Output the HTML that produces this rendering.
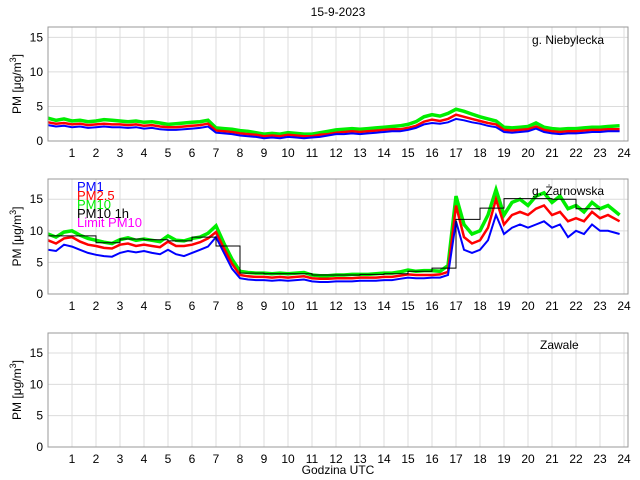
<!DOCTYPE html>
<html><head><meta charset="utf-8"><style>
body{margin:0;background:#fff;}
svg{display:block;font-family:"Liberation Sans",sans-serif;}
</style></head><body>
<svg id="c" width="640" height="480">
<text x="338" y="16" font-size="12" text-anchor="middle">15-9-2023</text>
<text x="338" y="474" font-size="12" text-anchor="middle">Godzina UTC</text>
</svg>
<script>
const hours = Array.from({length:72},(_,i)=>i/3);
const p1_pm10=[3.3,3.0,3.2,2.9,3.0,2.8,2.9,3.1,3.0,2.9,2.8,2.9,2.7,2.8,2.6,2.4,2.5,2.6,2.7,2.8,3.0,1.9,1.8,1.7,1.5,1.4,1.2,1.0,1.1,1.0,1.2,1.1,1.0,1.0,1.2,1.4,1.6,1.7,1.8,1.7,1.8,1.9,2.0,2.1,2.2,2.4,2.8,3.5,3.8,3.6,4.0,4.6,4.3,3.9,3.5,3.2,2.9,2.0,1.9,2.0,2.1,2.6,2.0,1.8,1.7,1.8,1.8,1.9,2.0,2.0,2.1,2.2];
const p1_pm25=[2.7,2.5,2.6,2.4,2.5,2.3,2.4,2.5,2.4,2.4,2.3,2.4,2.2,2.3,2.1,2.0,2.0,2.1,2.2,2.3,2.5,1.5,1.4,1.3,1.1,1.0,0.9,0.7,0.8,0.7,0.9,0.8,0.7,0.7,0.9,1.0,1.2,1.3,1.4,1.3,1.4,1.5,1.6,1.7,1.7,1.9,2.2,2.8,3.1,2.9,3.2,3.8,3.5,3.2,2.9,2.6,2.4,1.6,1.5,1.6,1.7,2.1,1.6,1.4,1.3,1.4,1.4,1.5,1.6,1.6,1.7,1.7];
const p1_pm1=[2.3,2.1,2.2,2.0,2.1,1.9,2.0,2.1,2.0,2.0,1.9,2.0,1.8,1.9,1.7,1.6,1.6,1.7,1.8,1.9,2.1,1.2,1.1,1.0,0.8,0.7,0.6,0.4,0.5,0.4,0.6,0.5,0.4,0.5,0.6,0.8,1.0,1.0,1.1,1.0,1.1,1.2,1.3,1.4,1.4,1.6,1.9,2.4,2.6,2.5,2.7,3.2,3.0,2.7,2.5,2.2,2.0,1.3,1.2,1.3,1.4,1.8,1.3,1.1,1.0,1.1,1.1,1.2,1.3,1.3,1.4,1.4];
const p2_pm10=[9.5,9.0,9.8,10.0,9.3,8.8,8.5,8.2,8.0,8.6,8.9,8.5,8.7,8.5,8.3,9.2,8.5,8.4,8.8,9.0,9.6,10.8,8.0,5.5,3.6,3.4,3.3,3.3,3.2,3.3,3.2,3.3,3.4,3.0,2.9,2.9,3.0,3.0,3.1,3.1,3.1,3.2,3.3,3.3,3.5,3.8,3.6,3.7,3.7,3.6,4.5,15.5,11.0,9.5,10.0,12.5,16.5,12.5,14.5,15.0,14.0,15.5,16.0,14.5,15.5,13.5,14.0,13.0,14.5,13.5,14.0,12.5];
const p2_pm25=[8.5,8.0,8.8,9.0,8.3,7.8,7.6,7.3,7.2,7.8,8.0,7.6,7.8,7.6,7.4,8.3,7.6,7.6,7.8,8.2,8.8,9.8,7.2,4.8,3.0,2.8,2.7,2.7,2.6,2.7,2.6,2.7,2.8,2.5,2.4,2.4,2.5,2.5,2.5,2.6,2.6,2.6,2.7,2.7,2.9,3.1,3.0,3.0,3.0,3.1,3.5,14.0,9.0,8.0,8.5,10.5,15.0,11.0,12.5,13.0,12.5,13.5,14.0,12.5,13.0,11.5,12.0,11.5,13.0,12.0,12.5,11.5];
const p2_pm1=[7.0,6.8,7.8,7.5,7.0,6.5,6.2,6.0,5.9,6.5,6.8,6.6,6.8,6.5,6.3,7.0,6.3,6.0,6.5,7.0,7.5,9.0,6.5,4.0,2.5,2.3,2.2,2.2,2.1,2.2,2.1,2.2,2.3,2.0,1.9,1.9,2.0,2.0,2.0,2.1,2.1,2.1,2.2,2.2,2.4,2.6,2.5,2.5,2.6,2.6,3.0,11.5,7.0,6.5,7.0,8.5,12.5,9.5,10.5,11.0,10.5,11.0,11.5,10.5,11.0,9.0,10.0,9.5,11.0,10.0,10.0,9.5];
const p2_hourly=[9.2,9.2,8.1,8.7,8.6,8.4,9.0,7.6,3.3,3.2,3.2,3.0,3.0,3.1,3.2,3.6,4.1,11.8,13.6,15.1,15.1,15.0,13.5];
const yTicks=[0,5,10,15];
const xTicks=[1,2,3,4,5,6,7,8,9,10,11,12,13,14,15,16,17,18,19,20,21,22,23,24];
const panels=[
 {name:"niebylecka",label:"g. Niebylecka",top:27,bot:141,ymax:16.5,lx:532,ly:44,series:[p1_pm10,p1_pm25,p1_pm1]},
 {name:"zarnowska",label:"g. Żarnowska",top:179,bot:294,ymax:18.2,lx:532,ly:195,series:[p2_pm10,p2_pm25,p2_pm1],hourly:p2_hourly,legend:true},
 {name:"zawale",label:"Zawale",top:333,bot:447,ymax:18.2,lx:540,ly:349,series:[]}
];
const colors=["#00ee00","#ff0000","#0000ff"];
const NS="http://www.w3.org/2000/svg";
const svg=document.getElementById("c");
function mk(t,a){const e=document.createElementNS(NS,t);for(const k in a)e.setAttribute(k,a[k]);return e;}
const X0=48,X1=628;
const sx=h=>X0+24*h;
panels.forEach((p,pi)=>{
  const sy=v=>p.bot-(v/p.ymax)*(p.bot-p.top);
  const g=mk("g",{});
  
  
  svg.appendChild(g);
  xTicks.forEach(t=>{
    const l=mk("line",{x1:sx(t),x2:sx(t),y1:p.top,y2:p.bot,stroke:"#dcdcdc","stroke-width":1});
    
    
    g.appendChild(l);
    const tx=mk("text",{x:sx(t),y:p.bot+16,"font-size":12,"text-anchor":"middle"});
    tx.textContent=t;
    
    
    g.appendChild(tx);
  });
  yTicks.forEach(t=>{
    if(t>0){const l=mk("line",{x1:X0,x2:X1,y1:sy(t),y2:sy(t),stroke:"#dcdcdc","stroke-width":1});
    
    
    g.appendChild(l);}
    const tx=mk("text",{x:X0-5,y:sy(t)+4,"font-size":12,"text-anchor":"end"});
    tx.textContent=t;
    
    
    g.appendChild(tx);
  });
  p.series.forEach((s,si)=>{
    const pts=s.map((v,i)=>sx(hours[i]+(i==71?0.15:0)).toFixed(1)+","+sy(v).toFixed(1)).join(" ");
    const pl=mk("polyline",{points:pts,fill:"none",stroke:colors[si],"stroke-width":[3.5,2.5,2][si]});
    
    
    g.appendChild(pl);
  });
  if(p.hourly){
    let d="";
    p.hourly.forEach((v,i)=>{d+=(i==0?"M":"L")+sx(i)+","+sy(v).toFixed(1)+" L"+sx(i+1)+","+sy(v).toFixed(1)+" ";});
    const ph=mk("path",{d:d,fill:"none",stroke:"#000","stroke-width":1});
    
    
    g.appendChild(ph);
  }
  const box=mk("rect",{x:X0,y:p.top,width:X1-X0,height:p.bot-p.top,fill:"none",stroke:"#999","stroke-width":1});
  
  
  g.appendChild(box);
  const yl=mk("text",{transform:`translate(21,${(p.top+p.bot)/2}) rotate(-90)`,"font-size":12,"text-anchor":"middle"});
  yl.innerHTML='PM [μg/m<tspan dy="-5" font-size="9">3</tspan><tspan dy="5">]</tspan>';
  
  
  g.appendChild(yl);
  const st=mk("text",{x:p.lx,y:p.ly,"font-size":12});
  st.textContent=p.label;
  
  
  g.appendChild(st);
  if(p.legend){
    const items=[["PM1","#0000ff"],["PM2.5","#ff0000"],["PM10","#00ee00"],["PM10 1h","#000"],["Limit PM10","#ff00ff"]];
    items.forEach((it,i)=>{
      const t=mk("text",{x:77,y:191+i*9,"font-size":13,fill:it[1]});
      t.textContent=it[0];
      
      
      g.appendChild(t);
    });
  }
});
</script>
</body></html>
